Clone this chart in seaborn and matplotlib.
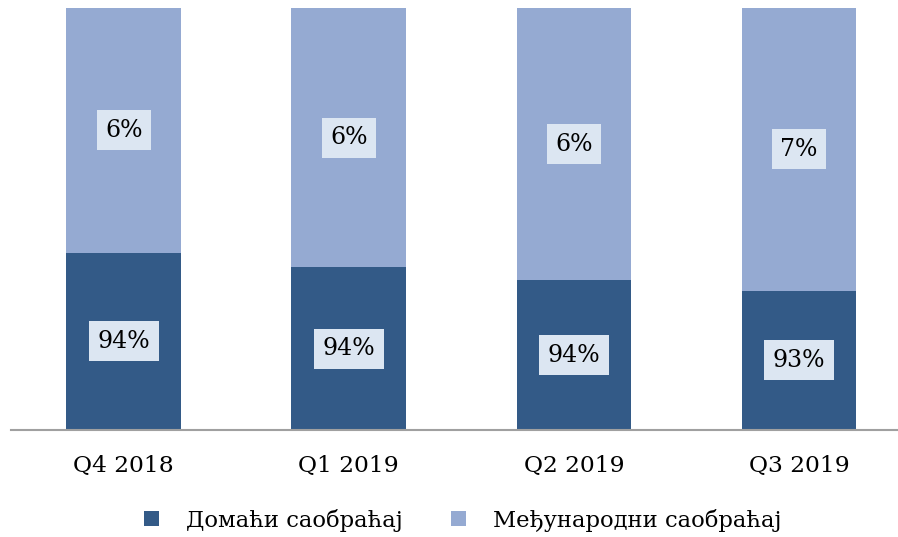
import pandas as pd
import matplotlib.pyplot as plt
import seaborn as sns

# Data (share of traffic, %)
quarters = ['Q4 2018', 'Q1 2019', 'Q2 2019', 'Q3 2019']
domestic = [94.2, 93.86, 93.55, 93.3]
international = [100 - d for d in domestic]
domestic_labels = ['94%', '94%', '94%', '93%']
international_labels = ['6%', '6%', '6%', '7%']
series_names = ['Домаћи саобраћај', 'Међународни саобраћај']

dark = '#335A87'
light = '#95AAD2'
box = '#DCE6F2'

df = pd.DataFrame({'quarter': quarters,
                   'domestic': domestic,
                   'total': [d + i for d, i in zip(domestic, international)]})

sns.set_style('white')
plt.rcParams['font.family'] = ['DejaVu Serif']
plt.rcParams['text.color'] = 'black'
plt.rcParams['xtick.color'] = 'black'

fig = plt.figure(figsize=(8.98, 5.37), dpi=100)
ax = fig.add_axes([0.0125, 0.199, 0.99, 0.786])

# stacked bars: total (light) behind, domestic (dark) in front
sns.barplot(data=df, x='quarter', y='total', color=light, width=0.51,
            saturation=1, linewidth=0, ax=ax, label=series_names[1])
sns.barplot(data=df, x='quarter', y='domestic', color=dark, width=0.51,
            saturation=1, linewidth=0, ax=ax, label=series_names[0])

ax.set_ylim(90, 100)
ax.set_xlim(-0.5, 3.45)

for i in range(len(quarters)):
    y_dom = (90 + domestic[i]) / 2
    y_int = (domestic[i] + 100) / 2
    ax.text(i, y_dom, domestic_labels[i], ha='center', va='center', fontsize=17,
            bbox=dict(boxstyle='square,pad=0.36', facecolor=box, edgecolor='none'))
    ax.text(i, y_int, international_labels[i], ha='center', va='center', fontsize=17,
            bbox=dict(boxstyle='square,pad=0.36', facecolor=box, edgecolor='none'))

for side in ['top', 'right', 'left']:
    ax.spines[side].set_visible(False)
ax.spines['bottom'].set_color('#A0A0A0')
ax.spines['bottom'].set_linewidth(1.5)
ax.set_yticks([])
ax.set_xlabel('')
ax.set_ylabel('')
ax.tick_params(axis='x', length=0, labelsize=16.8, pad=18)

handles, labels = ax.get_legend_handles_labels()
order = [labels.index(n) for n in series_names]
ax.legend([handles[k] for k in order], [labels[k] for k in order],
          loc='center', bbox_to_anchor=(0.508, -0.213), ncol=2, frameon=False,
          fontsize=16.3, handlelength=0.66, handleheight=0.66,
          handletextpad=1.2, columnspacing=2.1)

fig.savefig('out.png', dpi=100)
